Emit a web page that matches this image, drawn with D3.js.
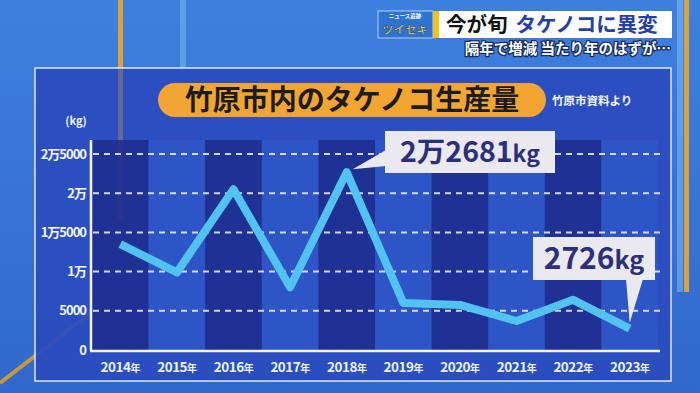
<!DOCTYPE html>
<html><head><meta charset="utf-8">
<script src="https://cdn.jsdelivr.net/npm/d3@7"></script>
<style>
html,body{margin:0;padding:0;background:#3a72d2;}
svg{display:block;}
text{font-family:"Noto Sans CJK JP","Noto Sans",sans-serif;font-weight:700;}
</style></head>
<body>
<svg id="c" width="700" height="393"></svg>
<script>
// ---- data ----
const years = ["2014","2015","2016","2017","2018","2019","2020","2021","2022","2023"];
const production = [13500, 9900, 20500, 8000, 22681, 6000, 5750, 3700, 6400, 2726];
const yTicks = [0, 5000, 10000, 15000, 20000, 25000];
const yTickLabels = ["0", "5000", "1万", "1万5000", "2万", "2万5000"];
const title = "竹原市内のタケノコ生産量";
const source = "竹原市資料より";
const unit = "(kg)";
const calloutPeak = {year:"2018", parts:["2万2681","kg"]};
const calloutLast = {year:"2023", parts:["2726","kg"]};
const headline = ["今が旬", "タケノコに異変"];
const subline = "隔年で増減 当たり年のはずが…";
const logo = ["ニュース追跡", "ツイセキ"];

const svg = d3.select("#c");
const defs = svg.append("defs");
const bg = defs.append("linearGradient").attr("id","bg").attr("x1",0).attr("y1",0).attr("x2",0).attr("y2",1);
bg.append("stop").attr("offset","0%").attr("stop-color","#3e80de");
bg.append("stop").attr("offset","100%").attr("stop-color","#3168cc");
svg.append("rect").attr("width",700).attr("height",393).attr("fill","url(#bg)");

// decorative studio elements
svg.append("rect").attr("x",180).attr("y",0).attr("width",6).attr("height",70).attr("fill","#6fb4ee").attr("opacity",0.6);
svg.append("rect").attr("x",118).attr("y",0).attr("width",5).attr("height",70).attr("fill","#d9a23a");
svg.append("line").attr("x1",0).attr("y1",383).attr("x2",92).attr("y2",312).attr("stroke","#c9983a").attr("stroke-width",4);
svg.append("rect").attr("x",684).attr("y",0).attr("width",5).attr("height",292).attr("fill","#d9a23a");
svg.append("rect").attr("x",677).attr("y",0).attr("width",6).attr("height",292).attr("fill","#8cc4f0").attr("opacity",0.5);

// panel
svg.append("rect").attr("x",35).attr("y",68).attr("width",636).attr("height",313)
  .attr("fill","#2a4cbe").attr("fill-opacity",0.94).attr("stroke","#dfe8ff").attr("stroke-width",1.5);
svg.append("rect").attr("x",118).attr("y",69).attr("width",5).attr("height",150).attr("fill","#c9983a").attr("opacity",0.35);

// scales
const x = d3.scaleBand().domain(years).range([92, 658]).padding(0);
const y = d3.scaleLinear().domain([0, 25000]).range([350, 154]);
const yTop = 140;

// stripes
svg.append("g").selectAll("rect").data(years).join("rect")
  .attr("x", d => x(d)).attr("y", yTop).attr("width", x.bandwidth()).attr("height", y(0) - yTop)
  .attr("fill", (d,i) => i % 2 === 0 ? "#1f2c8c" : "#2f58c8")
  .attr("opacity", (d,i) => i % 2 === 0 ? 0.85 : 0.7);

// gridlines
svg.append("g").selectAll("line").data(yTicks.filter(v => v > 0)).join("line")
  .attr("x1", 93).attr("x2", 660).attr("y1", d => y(d)).attr("y2", d => y(d))
  .attr("stroke", "#e6ecff").attr("stroke-width", 2).attr("stroke-dasharray", "6,5").attr("opacity",0.9);

// axes lines
svg.append("line").attr("x1",91).attr("x2",91).attr("y1",yTop).attr("y2",351).attr("stroke","#f2f5ff").attr("stroke-width",2.5);
svg.append("line").attr("x1",90).attr("x2",660).attr("y1",351).attr("y2",351).attr("stroke","#f2f5ff").attr("stroke-width",2.5);

// y axis labels via d3 axis
const yAxis = d3.axisLeft(y).tickValues(yTicks).tickFormat((d,i) => yTickLabels[i]).tickSize(0).tickPadding(0);
const ya = svg.append("g").attr("transform","translate(86,0)").call(yAxis);
ya.select(".domain").remove();
ya.selectAll("text").attr("fill","#f4f6ff").attr("font-size",13).attr("letter-spacing","-1")
  .style("font-family",'"Noto Sans CJK JP",sans-serif').style("font-weight",700);

// x axis labels
const xl = svg.append("g").selectAll("text").data(years).join("text")
  .attr("x", d => x(d) + x.bandwidth()/2).attr("y", 372).attr("text-anchor","middle")
  .attr("fill","#eef2ff").attr("font-size",13.5).attr("letter-spacing","-0.5");
xl.append("tspan").text(d => d);
xl.append("tspan").attr("font-size",10).text("年");

// unit
svg.append("text").attr("x",76).attr("y",125).attr("text-anchor","middle").attr("fill","#f0f3ff").attr("font-size",11).text(unit);

// line
const line = d3.line().x((d,i) => x(years[i]) + x.bandwidth()/2).y(d => y(d));
svg.append("path").datum(production).attr("d", line).attr("fill","none")
  .attr("stroke","#52c2f2").attr("stroke-width",8).attr("stroke-linejoin","round");

// title pill
svg.append("rect").attr("x",158).attr("y",83).attr("width",388).attr("height",34).attr("rx",17).attr("fill","#f2a532");
svg.append("text").attr("x",352).attr("y",110).attr("text-anchor","middle").attr("fill","#1c1c1c").attr("font-size",28).attr("font-weight",900).text(title);
svg.append("text").attr("x",552).attr("y",105).attr("fill","#f4f6ff").attr("font-size",11.5).text(source);

// callouts
function callout(box, tail, c, fontSize, kgSize) {
  const g = svg.append("g");
  g.append("path").attr("d", d3.line()(tail) + "Z").attr("fill","#e9e9ef");
  g.append("rect").attr("x",box[0]).attr("y",box[1]).attr("width",box[2]).attr("height",box[3]).attr("fill","#e9e9ef");
  const t = g.append("text").attr("x", box[0] + box[2]/2).attr("y", box[1] + box[3]/2 + fontSize*0.36)
    .attr("text-anchor","middle").attr("fill","#2b2f7c").attr("font-size",fontSize).attr("font-weight",900);
  t.append("tspan").text(c.parts[0]);
  t.append("tspan").attr("font-size",kgSize).text(c.parts[1]);
}
const px1 = x(calloutPeak.year) + x.bandwidth()/2, py1 = y(production[years.indexOf(calloutPeak.year)]);
callout([385,131,170,42], [[px1+6,py1-3],[386,150],[386,166]], calloutPeak, 28.5, 23);
const px2 = x(calloutLast.year) + x.bandwidth()/2, py2 = y(production[years.indexOf(calloutLast.year)]);
callout([533,237,122,43], [[626,279],[643,279],[px2,py2-6]], calloutLast, 30, 25);

// top banner
svg.append("rect").attr("x",378).attr("y",11).attr("width",55).attr("height",27).attr("fill","#2f73d0").attr("stroke","#cfe3ff").attr("stroke-width",0.8);
svg.append("text").attr("x",405).attr("y",18).attr("text-anchor","middle").attr("fill","#ffffff").attr("font-size",5.5).text(logo[0]);
svg.append("text").attr("x",405).attr("y",34).attr("text-anchor","middle").attr("fill","#f3ea4a").attr("font-size",11.5)
  .attr("stroke","#1d3f8f").attr("stroke-width",0.6).text(logo[1]);
svg.append("rect").attr("x",433).attr("y",11).attr("width",6).attr("height",27).attr("fill","#f1c21b");
svg.append("rect").attr("x",439).attr("y",11).attr("width",233).attr("height",27).attr("fill","#ffffff");
const hl = svg.append("text").attr("x",446).attr("y",32).attr("font-size",20.5).attr("font-weight",900);
hl.append("tspan").attr("fill","#111").text(headline[0]);
hl.append("tspan").attr("dx",8).attr("fill","#2740a6").text(headline[1]);
svg.append("text").attr("x",671).attr("y",54).attr("text-anchor","end").attr("font-size",14.5).attr("font-weight",900)
  .attr("fill","#ffffff").attr("stroke","#1a2a55").attr("stroke-width",2.5).attr("paint-order","stroke").text(subline);
</script>
</body></html>
